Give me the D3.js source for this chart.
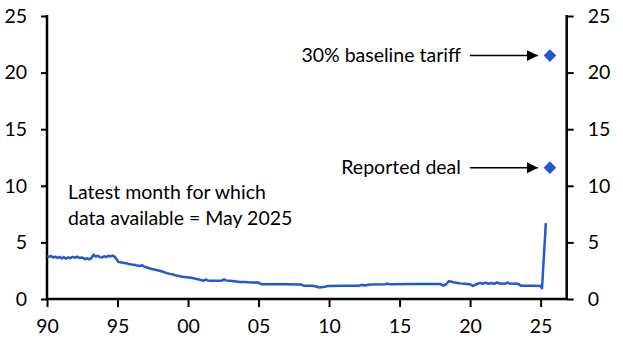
<!DOCTYPE html>
<html lang="en">
    <head>
        <meta charset="utf-8">
        <title>Tariff rate chart</title>
        <script src="https://d3js.org/d3.v7.min.js"></script>
        <style>
            body { margin: 0; background: #fff; }
            text { font-family: Lato, "Noto Sans", sans-serif; fill: #000; }
        </style>
    </head>
    <body>
        <svg width="623" height="354" id="svg"></svg>
        <script>
                // effective tariff rate, decimal year -> %
                var dates = [1990.00, 1990.15, 1990.30, 1990.45, 1990.60, 1990.75, 1990.90, 1991.05, 1991.20, 1991.35,
                             1991.50, 1991.65, 1991.80, 1992.00, 1992.15, 1992.30, 1992.50, 1992.70, 1992.85, 1993.00,
                             1993.15, 1993.30, 1993.45, 1993.60, 1993.75, 1993.90, 1994.05, 1994.20, 1994.35, 1994.50,
                             1994.65, 1994.80, 1994.95, 1995.05, 1995.20, 1995.40, 1995.60, 1995.80, 1996.00, 1996.20,
                             1996.40, 1996.60, 1996.75, 1996.90, 1997.10, 1997.30, 1997.50, 1997.70, 1997.90, 1998.10,
                             1998.30, 1998.50, 1998.70, 1998.90, 1999.10, 1999.30, 1999.50, 1999.70, 1999.90, 2000.10,
                             2000.30, 2000.50, 2000.70, 2000.90, 2001.10, 2001.30, 2001.40, 2001.60, 2002.00, 2002.40,
                             2002.55, 2002.70, 2003.00, 2003.40, 2003.70, 2004.00, 2004.30, 2004.60, 2005.00, 2005.20,
                             2005.50, 2006.00, 2007.00, 2008.00, 2008.20, 2008.80, 2009.10, 2009.30, 2009.60, 2009.90,
                             2011.00, 2012.10, 2012.30, 2012.50, 2012.80, 2013.00, 2014.00, 2014.10, 2014.30, 2016.00,
                             2017.90, 2018.10, 2018.30, 2018.50, 2018.70, 2018.90, 2019.10, 2019.30, 2019.60, 2020.00,
                             2020.20, 2020.40, 2020.70, 2020.90, 2021.10, 2021.30, 2021.50, 2021.70, 2021.90, 2022.10,
                             2022.50, 2022.65, 2022.80, 2023.40, 2023.60, 2024.00, 2024.50, 2025.00, 2025.10, 2025.37];
                var rates = [3.78, 3.72, 3.80, 3.66, 3.74, 3.62, 3.72, 3.58, 3.70, 3.55,
                             3.68, 3.60, 3.72, 3.65, 3.74, 3.62, 3.66, 3.52, 3.60, 3.50,
                             3.62, 3.92, 3.75, 3.82, 3.70, 3.66, 3.78, 3.70, 3.82, 3.76,
                             3.84, 3.72, 3.50, 3.28, 3.25, 3.20, 3.16, 3.10, 3.05, 3.02,
                             2.95, 2.92, 2.98, 2.85, 2.78, 2.70, 2.62, 2.58, 2.52, 2.45,
                             2.38, 2.28, 2.22, 2.18, 2.10, 2.05, 1.98, 1.95, 1.92, 1.90,
                             1.86, 1.80, 1.74, 1.68, 1.62, 1.72, 1.64, 1.62, 1.62, 1.62,
                             1.74, 1.64, 1.62, 1.55, 1.50, 1.50, 1.47, 1.46, 1.45, 1.30,
                             1.30, 1.30, 1.30, 1.28, 1.18, 1.17, 1.10, 1.02, 1.05, 1.15,
                             1.16, 1.17, 1.25, 1.20, 1.26, 1.28, 1.30, 1.36, 1.31, 1.32,
                             1.32, 1.18, 1.30, 1.58, 1.52, 1.45, 1.42, 1.38, 1.35, 1.30,
                             1.15, 1.28, 1.42, 1.33, 1.44, 1.35, 1.42, 1.33, 1.46, 1.36,
                             1.35, 1.46, 1.36, 1.34, 1.18, 1.17, 1.17, 1.15, 0.95, 6.70];

                // scenario markers
                var scenarioLabels = ["30% baseline tariff", "Reported deal"];
                var scenarioDate = 2025.66;
                var scenarioValues = [21.5, 11.6];

                var yTicks = [0, 5, 10, 15, 20, 25];
                var xTicks = [1990, 1995, 2000, 2005, 2010, 2015, 2020, 2025];
                var xTickLabels = ["90", "95", "00", "05", "10", "15", "20", "25"];

                var noteLines = ["Latest month for which", "data available = May 2025"];

                var mLeft = 47, mRight = 566.7, mTop = 16, mBottom = 299;
                var blue = "#2159d1";
                var fontSize = "19.5px";

                var svg = d3.select("#svg");

                var xscale = d3.scaleLinear().domain([1990, 2026.85]).range([mLeft, mRight]);
                var yscale = d3.scaleLinear().domain([0, 25]).range([mBottom, mTop]);

                // axes
                var yLeft = d3.axisLeft(yscale).tickValues(yTicks).tickSize(6).tickPadding(14);
                var yRight = d3.axisRight(yscale).tickValues(yTicks).tickSize(7).tickPadding(14);
                var xAxis = d3.axisBottom(xscale).tickValues(xTicks).tickSize(8).tickPadding(12)
                    .tickFormat(function(d, i) { return xTickLabels[i]; });

                var gl = svg.append("g").attr("transform", "translate(" + mLeft + ",0)").call(yLeft);
                var gr = svg.append("g").attr("transform", "translate(" + mRight + ",0)").call(yRight);
                var gx = svg.append("g").attr("transform", "translate(0," + mBottom + ")").call(xAxis);

                [gl, gr, gx].forEach(function(g) {
                    g.select(".domain").remove();
                    g.selectAll(".tick line").attr("stroke", "#000").attr("stroke-width", 2);
                    g.selectAll(".tick text").style("font-size", fontSize).style("font-family", "Lato, 'Noto Sans', sans-serif");
                });

                // axis lines
                svg.append("line").attr("x1", mLeft).attr("x2", mLeft).attr("y1", mTop - 1).attr("y2", mBottom + 1)
                    .attr("stroke", "#000").attr("stroke-width", 2.5);
                svg.append("line").attr("x1", mRight).attr("x2", mRight).attr("y1", mTop - 1).attr("y2", mBottom + 1)
                    .attr("stroke", "#000").attr("stroke-width", 2.5);
                svg.append("line").attr("x1", mLeft).attr("x2", mRight).attr("y1", mBottom).attr("y2", mBottom)
                    .attr("stroke", "#000").attr("stroke-width", 2.5);

                // series line
                var line = d3.line()
                    .x(function(d) { return xscale(d[0]); })
                    .y(function(d) { return yscale(d[1]); });
                svg.append("path")
                    .datum(d3.zip(dates, rates))
                    .attr("d", line)
                    .attr("fill", "none")
                    .attr("stroke", blue)
                    .attr("stroke-width", 2.5)
                    .attr("stroke-linejoin", "round");

                // arrow head
                svg.append("defs").append("marker")
                    .attr("id", "arrow")
                    .attr("viewBox", "0 0 10 10")
                    .attr("refX", 10).attr("refY", 5)
                    .attr("markerWidth", 11).attr("markerHeight", 12)
                    .attr("markerUnits", "userSpaceOnUse")
                    .attr("orient", "auto")
                    .append("path").attr("d", "M0,0L10,5L0,10Z").attr("fill", "#000");

                var sx = xscale(scenarioDate);
                var scen = svg.selectAll(".scen")
                    .data(d3.zip(scenarioLabels, scenarioValues))
                    .enter().append("g").attr("class", "scen");

                scen.append("path")
                    .attr("d", d3.symbol().type(d3.symbolSquare).size(80))
                    .attr("transform", function(d) { return "translate(" + sx + "," + yscale(d[1]) + ") rotate(45)"; })
                    .attr("fill", blue);

                scen.append("line")
                    .attr("x1", sx - 80).attr("x2", sx - 12)
                    .attr("y1", function(d) { return yscale(d[1]); })
                    .attr("y2", function(d) { return yscale(d[1]); })
                    .attr("stroke", "#000").attr("stroke-width", 1.5)
                    .attr("marker-end", "url(#arrow)");

                scen.append("text")
                    .attr("x", sx - 89)
                    .attr("y", function(d) { return yscale(d[1]) + 6; })
                    .attr("text-anchor", "end")
                    .style("font-size", fontSize)
                    .text(function(d) { return d[0]; });

                // note
                svg.append("text")
                    .attr("x", 68).attr("y", 199)
                    .style("font-size", fontSize)
                    .selectAll("tspan").data(noteLines).enter().append("tspan")
                    .attr("x", 68)
                    .attr("dy", function(d, i) { return i ? 26 : 0; })
                    .text(function(d) { return d; });
           </script>
    </body>
</html>
